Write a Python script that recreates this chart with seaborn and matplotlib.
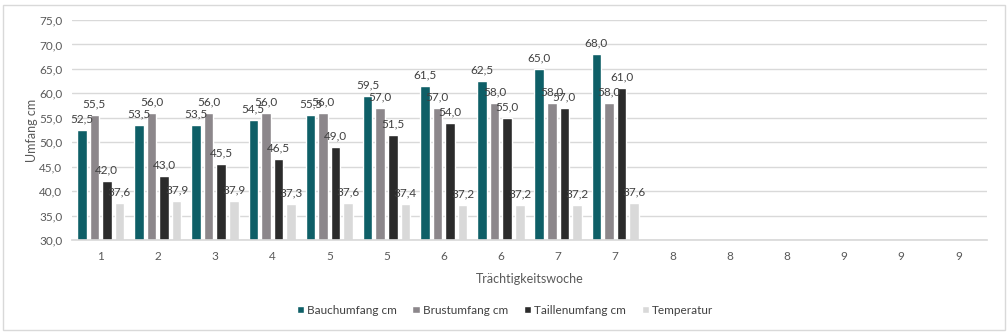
import numpy as np
import pandas as pd
import seaborn as sns
import matplotlib
matplotlib.use("Agg")
import matplotlib.pyplot as plt
from matplotlib.patches import Rectangle

# ---- data ----
week_labels = ["1", "2", "3", "4", "5", "5", "6", "6", "7", "7", "8", "8", "8", "9", "9", "9"]
bauchumfang = [52.5, 53.5, 53.5, 54.5, 55.5, 59.5, 61.5, 62.5, 65.0, 68.0]
brustumfang = [55.5, 56.0, 56.0, 56.0, 56.0, 57.0, 57.0, 58.0, 58.0, 58.0]
taillenumfang = [42.0, 43.0, 45.5, 46.5, 49.0, 51.5, 54.0, 55.0, 57.0, 61.0]
temperatur = [37.6, 37.9, 37.9, 37.3, 37.6, 37.4, 37.2, 37.2, 37.2, 37.6]
series_names = ["Bauchumfang cm", "Brustumfang cm", "Taillenumfang cm", "Temperatur"]
colors = ["#0E5F67", "#8C878B", "#2B2B2B", "#D9D9D9"]

n_cat = len(week_labels)
rows = []
for name, vals in zip(series_names, [bauchumfang, brustumfang, taillenumfang, temperatur]):
    for i in range(n_cat):
        v = vals[i] if i < len(vals) else np.nan
        rows.append({"idx": i, "series": name, "value": v})
df = pd.DataFrame(rows)

sns.set_theme(style="white")
plt.rcParams["font.family"] = ["Lato", "DejaVu Sans"]

fig = plt.figure(figsize=(10.07, 3.35), dpi=100)
fig.patch.set_facecolor("white")
W, H = 1007, 335
ax = fig.add_axes([72 / W, (H - 240) / H, (987 - 72) / W, 220 / H])

sns.barplot(data=df, x="idx", y="value", hue="series", order=list(range(n_cat)),
            hue_order=series_names, palette=colors, width=0.88, gap=0.24,
            ax=ax, legend=True, saturation=1, errorbar=None)

ax.set_ylim(30, 75)
ax.set_yticks(np.arange(30, 76, 5))
ax.set_yticklabels([f"{v:.1f}".replace(".", ",") for v in np.arange(30, 76, 5)])
ax.set_xticks(range(n_cat))
ax.set_xticklabels(week_labels)
ax.set_xlim(-0.5, n_cat - 0.5)
ax.yaxis.grid(True, color="#D9D9D9", linewidth=1)
ax.set_axisbelow(True)
for s in ["top", "right", "left"]:
    ax.spines[s].set_visible(False)
ax.spines["bottom"].set_color("#D9D9D9")
ax.tick_params(axis="both", length=0, labelsize=8.5, colors="#595959")
ax.tick_params(axis="y", pad=7)
ax.tick_params(axis="x", pad=8)
ax.set_xlabel("Trächtigkeitswoche", fontsize=9, color="#595959", labelpad=8)
ax.set_ylabel("Umfang cm", fontsize=9, color="#595959", labelpad=1)

for cont in ax.containers:
    labels = [f"{v:.1f}".replace(".", ",") for v in cont.datavalues]
    ax.bar_label(cont, labels=labels, padding=4, fontsize=8.5, color="#404040")

handles, lbls = ax.get_legend_handles_labels()
ax.get_legend().remove()
fig.legend(handles, lbls, loc="center", bbox_to_anchor=(505 / W, 25 / H), ncol=4,
           frameon=False, fontsize=8.5, handlelength=0.6, handleheight=0.6,
           columnspacing=1.3, handletextpad=0.3, labelcolor="#404040")

# chart border
fig.add_artist(Rectangle((3 / W, 5 / H), (1005 - 3) / W, (330 - 5) / H,
                         transform=fig.transFigure, fill=False,
                         edgecolor="#D9D9D9", linewidth=1))

fig.savefig("out.png", dpi=100, facecolor="white")
